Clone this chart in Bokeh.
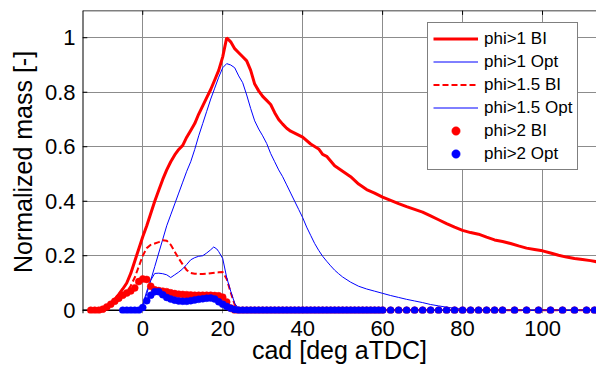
from bokeh.plotting import figure
from bokeh.models import Range1d, FixedTicker, Span, Legend, LegendItem
from bokeh.embed import file_html
from bokeh.resources import INLINE

# ---------------- data ----------------
cad_bi1 = [-13, -11, -10, -9, -8, -7, -6, -5, -4, -3, -2, -1, 0, 1, 2, 3, 4, 5, 6, 7,
           8, 9, 10, 11, 12, 13, 14, 15, 16, 17, 18, 19, 20, 21, 22, 23, 24, 25, 26, 27,
           28, 29, 30, 31, 32, 33, 34, 35, 36, 37, 38, 40, 42, 44, 45, 46, 48, 50, 52, 54,
           56, 58, 60, 62, 64, 66, 68, 70, 72, 74, 76, 78, 80, 82, 84, 86, 88, 90, 92, 94,
           96, 98, 100, 102, 104, 106, 108, 110, 112, 113.5]
phi1_bi = [0, 0.002, 0.006, 0.013, 0.025, 0.04, 0.058, 0.078, 0.1, 0.135, 0.18, 0.225, 0.27, 0.31, 0.355, 0.4, 0.44, 0.48, 0.515, 0.545,
           0.57, 0.59, 0.605, 0.635, 0.66, 0.685, 0.72, 0.75, 0.78, 0.81, 0.845, 0.88, 0.93, 1.0, 0.985, 0.96, 0.945, 0.93, 0.915, 0.88,
           0.83, 0.805, 0.785, 0.77, 0.755, 0.725, 0.7, 0.683, 0.668, 0.657, 0.65, 0.635, 0.61, 0.592, 0.572, 0.565, 0.53, 0.51, 0.49, 0.463,
           0.443, 0.43, 0.415, 0.403, 0.391, 0.38, 0.37, 0.36, 0.346, 0.332, 0.318, 0.305, 0.293, 0.285, 0.279, 0.268, 0.258, 0.252, 0.245, 0.236,
           0.228, 0.223, 0.218, 0.21, 0.202, 0.195, 0.19, 0.186, 0.182, 0.178]

cad_opt1 = [-5, -1, 0, 1, 2, 3, 4, 5, 6, 7, 8, 9, 10, 11, 12, 13, 14, 15, 16, 17,
            18, 19, 20, 21, 22, 23, 24, 25, 26, 27, 28, 29, 30, 31, 32, 33, 34, 35, 36, 37,
            38, 39, 40, 41, 42, 43, 44, 45, 46, 47, 48, 49, 50, 52, 54, 56, 58, 60, 62, 64,
            66, 68, 70, 72, 74, 76, 78, 80, 82, 84, 113.5]
phi1_opt = [0, 0, 0.015, 0.06, 0.11, 0.16, 0.21, 0.26, 0.31, 0.35, 0.39, 0.43, 0.47, 0.51, 0.545, 0.59, 0.64, 0.685, 0.73, 0.775,
            0.815, 0.855, 0.89, 0.905, 0.9, 0.89, 0.86, 0.835, 0.79, 0.74, 0.695, 0.665, 0.64, 0.612, 0.575, 0.545, 0.515, 0.49, 0.46, 0.43,
            0.4, 0.37, 0.34, 0.305, 0.275, 0.245, 0.22, 0.198, 0.18, 0.163, 0.147, 0.134, 0.122, 0.103, 0.088, 0.078, 0.07, 0.062, 0.054, 0.047,
            0.04, 0.034, 0.028, 0.021, 0.016, 0.011, 0.007, 0.004, 0.002, 0, 0]

cad_bi15 = [-13, -11, -10, -9, -8, -7, -6, -5, -4, -3, -2, -1, 0, 1, 2, 3, 4, 5, 6, 7,
            8, 9, 10, 11, 12, 13, 14, 15, 16, 17, 18, 19, 20, 21, 22, 23, 24, 113.5]
phi15_bi = [0, 0.002, 0.005, 0.01, 0.017, 0.026, 0.037, 0.05, 0.066, 0.09, 0.12, 0.16, 0.2, 0.228, 0.24, 0.245, 0.25, 0.257, 0.255, 0.24,
            0.215, 0.19, 0.168, 0.147, 0.137, 0.134, 0.133, 0.133, 0.134, 0.136, 0.138, 0.139, 0.14, 0.115, 0.065, 0.02, 0, 0]

cad_opt15 = [-5, -1, 0, 1, 2, 3, 4, 5, 6, 7, 8, 9, 10, 11, 12, 13, 14, 15, 16, 17,
             17.75, 18.5, 19, 20, 21, 22, 23, 24, 25, 113.5]
phi15_opt = [0, 0, 0.02, 0.07, 0.11, 0.135, 0.136, 0.134, 0.13, 0.12, 0.13, 0.14, 0.152, 0.168, 0.185, 0.193, 0.198, 0.2, 0.21, 0.222,
             0.232, 0.225, 0.215, 0.19, 0.12, 0.07, 0.025, 0.006, 0, 0]

cad_dot_bi = [-13, -12, -11, -10, -9, -8, -7, -6, -5, -4, -3, -2, -1, 0, 1, 2, 3, 4, 5, 6,
              7, 8, 9, 10, 11, 12, 13, 14, 15, 16, 17, 18, 19, 20, 21, 22, 23, 24]
phi2_bi = [0, 0, 0, 0.004, 0.012, 0.022, 0.033, 0.044, 0.055, 0.063, 0.071, 0.082, 0.105, 0.115, 0.113, 0.088, 0.075, 0.072, 0.07, 0.068,
           0.064, 0.061, 0.059, 0.058, 0.057, 0.056, 0.055, 0.055, 0.055, 0.055, 0.055, 0.054, 0.053, 0.048, 0.03, 0.008, 0, 0]

cad_dot_opt = [-5, -4, -3, -2, -1, 0, 1, 2, 3, 4, 5, 6, 7, 8, 9, 10, 11, 12, 13, 14,
               15, 16, 17, 18, 19, 20, 21, 22, 23, 24]
phi2_opt = [0, 0, 0, 0, 0, 0.01, 0.035, 0.055, 0.068, 0.068, 0.057, 0.047, 0.041, 0.037, 0.034, 0.033, 0.033, 0.035, 0.038, 0.04,
            0.042, 0.044, 0.045, 0.041, 0.031, 0.022, 0.014, 0.007, 0.003, 0]

cad_dot_tail = [25, 26, 27, 28, 29, 30, 31, 32, 33, 34, 35, 36, 37, 38, 39, 40, 41, 42, 43, 44,
                45, 46, 47, 48, 49, 50, 51, 52, 53, 54, 55, 56, 57, 58, 59, 60, 62, 64, 66, 68,
                70, 72, 74, 76, 78, 80, 82, 84, 86, 88, 90, 93, 96, 99, 102, 105, 108, 111, 113]
phi2_tail = [0, 0, 0, 0, 0, 0, 0, 0, 0, 0, 0, 0, 0, 0, 0, 0, 0, 0, 0, 0,
             0, 0, 0, 0, 0, 0, 0, 0, 0, 0, 0, 0, 0, 0, 0, 0, 0, 0, 0, 0,
             0, 0, 0, 0, 0, 0, 0, 0, 0, 0, 0, 0, 0, 0, 0, 0, 0, 0, 0]

x_ticks = [0, 20, 40, 60, 80, 100]
y_ticks = [0, 0.2, 0.4, 0.6, 0.8, 1]
y_tick_labels = {0: "0", 0.2: "0.2", 0.4: "0.4", 0.6: "0.6", 0.8: "0.8", 1: "1"}
labels = ["phi>1 BI", "phi>1 Opt", "phi>1.5 BI", "phi>1.5 Opt", "phi>2 BI", "phi>2 Opt"]

# ---------------- figure ----------------
FONT = "Liberation Sans"
RED = "#ff0000"
BLUE = "#0000ff"
X0, X1, Y0, Y1 = -15.07, 113.5, -0.012, 1.1
TICK_X = 1.2      # inner tick length on the left edge (data units of x)
TICK_Y = 0.016    # inner tick length on top / bottom edges (data units of y)

p = figure(width=596, height=371, x_range=Range1d(X0, X1), y_range=Range1d(Y0, Y1),
           output_backend="svg", toolbar_location=None,
           min_border_left=82, min_border_right=0, min_border_top=10, min_border_bottom=58)
p.outline_line_color = None
p.background_fill_color = "white"
p.border_fill_color = "white"

for g in (p.xgrid, p.ygrid):
    g.grid_line_color = "#8c8c8c"
    g.grid_line_width = 1
p.xgrid.ticker = FixedTicker(ticks=x_ticks)
p.ygrid.ticker = FixedTicker(ticks=y_ticks)

xa = p.xaxis[0]
xa.ticker = FixedTicker(ticks=x_ticks)
xa.axis_line_color = None
xa.major_tick_in = 0
xa.major_tick_out = 0
xa.minor_tick_line_color = None
xa.major_label_text_font = FONT
xa.major_label_text_font_size = "22px"
xa.major_label_text_color = "black"
xa.major_label_standoff = 7
xa.axis_label = "cad [deg aTDC]"
xa.axis_label_text_font = FONT
xa.axis_label_text_font_size = "25px"
xa.axis_label_text_font_style = "normal"
xa.axis_label_text_color = "black"
xa.axis_label_standoff = -3

ya = p.yaxis[0]
ya.ticker = FixedTicker(ticks=y_ticks)
ya.major_label_overrides = y_tick_labels
ya.axis_line_color = None
ya.major_tick_in = 0
ya.major_tick_out = 0
ya.minor_tick_line_color = None
ya.major_label_text_font = FONT
ya.major_label_text_font_size = "22px"
ya.major_label_text_color = "black"
ya.major_label_standoff = 7
ya.axis_label = "Normalized mass [-]"
ya.axis_label_text_font = FONT
ya.axis_label_text_font_size = "25px"
ya.axis_label_text_font_style = "normal"
ya.axis_label_text_color = "black"
ya.axis_label_standoff = 5

# frame borders (bottom at y=0, top and left edges)
p.add_layout(Span(location=0, dimension="width", line_color="black", line_width=1.5, level="underlay"))
p.add_layout(Span(location=Y1, dimension="width", line_color="black", line_width=1.5))
p.add_layout(Span(location=X0, dimension="height", line_color="black", line_width=2))

# inner tick marks
p.segment(x0=x_ticks, y0=[Y1] * len(x_ticks), x1=x_ticks, y1=[Y1 - TICK_Y] * len(x_ticks),
          line_color="black", line_width=1)
p.segment(x0=x_ticks, y0=[0] * len(x_ticks), x1=x_ticks, y1=[TICK_Y] * len(x_ticks),
          line_color="black", line_width=1, level="underlay")
p.segment(x0=[X0] * len(y_ticks), y0=y_ticks, x1=[X0 + TICK_X] * len(y_ticks), y1=y_ticks,
          line_color="black", line_width=1)

r1 = p.line(cad_bi1, phi1_bi, line_color=RED, line_width=3)
r2 = p.line(cad_opt1, phi1_opt, line_color=BLUE, line_width=1)
r3 = p.line(cad_bi15, phi15_bi, line_color=RED, line_width=2, line_dash="6 3")
r4 = p.line(cad_opt15, phi15_opt, line_color=BLUE, line_width=1)
r5 = p.scatter(cad_dot_bi + cad_dot_tail, phi2_bi + phi2_tail, size=7,
               fill_color=RED, line_color=RED, line_width=0.5)
r6 = p.scatter(cad_dot_opt + cad_dot_tail, phi2_opt + phi2_tail, size=7,
               fill_color=BLUE, line_color=BLUE, line_width=0.5)

legend = Legend(items=[LegendItem(label=lab, renderers=[r]) for lab, r in
                       zip(labels, [r1, r2, r3, r4, r5, r6])],
                location=(345, 143))
legend.border_line_color = "black"
legend.border_line_width = 1.5
legend.background_fill_color = "white"
legend.background_fill_alpha = 1
legend.label_text_font = FONT
legend.label_text_font_size = "17px"
legend.label_text_color = "black"
legend.glyph_width = 45
legend.glyph_height = 21
legend.label_height = 21
legend.spacing = 2
legend.padding = 5
legend.margin = 0
legend.label_standoff = 6
p.add_layout(legend)

open("out.html", "w").write(file_html(p, INLINE))
